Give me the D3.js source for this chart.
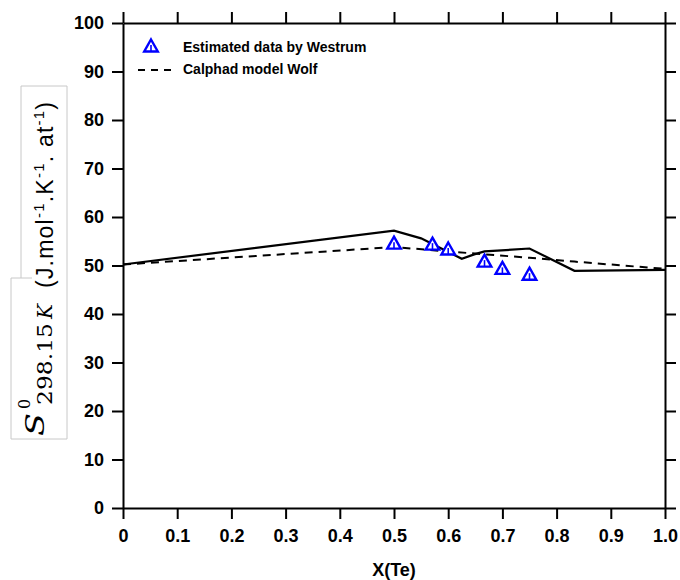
<!DOCTYPE html>
<html>
<head>
<meta charset="utf-8">
<script src="https://cdn.jsdelivr.net/npm/d3@7"></script>
<style>
  body { margin: 0; background: #fff; }
  svg { font-family: "Liberation Sans", Arial, sans-serif; }
</style>
</head>
<body>
<svg width="680" height="580"></svg>
<script>
// data
var westrumX = [0.5, 0.571, 0.6, 0.667, 0.7, 0.75]
var westrumS = [54.4, 54.2, 53.2, 50.7, 49.2, 48.0]
var solidX = [0, 0.5, 0.55, 0.625, 0.648, 0.667, 0.75, 0.833, 1.0]
var solidS = [50.2, 57.2, 55.6, 51.4, 52.3, 52.9, 53.5, 48.9, 49.1]
var wolfX = [0, 0.5, 0.6, 0.667, 0.75, 0.833, 1.0]
var wolfS = [50.2, 53.8, 52.9, 52.3, 51.6, 50.8, 49.3]
var xTicks = [0, 0.1, 0.2, 0.3, 0.4, 0.5, 0.6, 0.7, 0.8, 0.9, 1.0]
var xTickLabels = ["0", "0.1", "0.2", "0.3", "0.4", "0.5", "0.6", "0.7", "0.8", "0.9", "1.0"]
var yTicks = [0, 10, 20, 30, 40, 50, 60, 70, 80, 90, 100]
var legendLabels = ["Estimated data by Westrum", "Calphad model Wolf"]

function renderChart() {
  var svg = d3.select("svg")
  var pLeft = 123, pRight = 665, pTop = 23, pBottom = 508

  var x = d3.scaleLinear().domain([0, 1]).range([pLeft, pRight])
  var y = d3.scaleLinear().domain([0, 100]).range([pBottom, pTop])

  function styleAxis(g) {
    g.selectAll(".domain").attr("stroke", "#000").attr("stroke-width", 2)
    g.selectAll(".tick line").attr("stroke", "#000").attr("stroke-width", 2)
    g.selectAll(".tick text").attr("fill", "#000")
      .style("font-weight", "bold").style("font-size", "18px")
      .style("font-family", "'Liberation Sans', Arial, sans-serif")
  }

  svg.append("g").attr("transform", `translate(0,${pBottom})`)
    .call(d3.axisBottom(x).tickValues(xTicks).tickSize(11).tickSizeOuter(0).tickPadding(10)
      .tickFormat((d, i) => xTickLabels[i]))
    .call(styleAxis)

  svg.append("g").attr("transform", `translate(0,${pTop})`)
    .call(d3.axisTop(x).tickValues(xTicks).tickSize(11).tickSizeOuter(0).tickFormat(""))
    .call(styleAxis)

  svg.append("g").attr("transform", `translate(${pLeft},0)`)
    .call(d3.axisLeft(y).tickValues(yTicks).tickSize(11).tickSizeOuter(0).tickPadding(8))
    .call(styleAxis)

  svg.append("g").attr("transform", `translate(${pRight},0)`)
    .call(d3.axisRight(y).tickValues(yTicks).tickSize(11).tickSizeOuter(0).tickFormat(""))
    .call(styleAxis)

  // lines
  var lineGen = d3.line().x(d => x(d[0])).y(d => y(d[1]))

  svg.append("path")
    .attr("d", lineGen(d3.zip(solidX, solidS)))
    .attr("fill", "none").attr("stroke", "#000").attr("stroke-width", 2.2)

  svg.append("path")
    .attr("d", lineGen(d3.zip(wolfX, wolfS)))
    .attr("fill", "none").attr("stroke", "#000").attr("stroke-width", 2)
    .attr("stroke-dasharray", "8,6")

  // triangle markers
  function triangle(g) {
    g.append("path").attr("d", "M0,-7.5L6.8,4.5L-6.8,4.5Z")
      .attr("fill", "#fff").attr("stroke", "#0000ff").attr("stroke-width", 2.4)
    g.append("line").attr("x1", 0).attr("x2", 0).attr("y1", -2).attr("y2", 4.5)
      .attr("stroke", "#0000ff").attr("stroke-width", 1.6)
  }

  svg.selectAll(".westrum")
    .data(d3.zip(westrumX, westrumS))
    .enter().append("g").attr("class", "westrum")
    .attr("transform", d => `translate(${x(d[0])},${y(d[1])})`)
    .each(function () { triangle(d3.select(this)) })

  // legend
  var legend = svg.append("g")
  legend.append("g").attr("transform", "translate(151,47)").call(triangle)
  legend.append("line").attr("x1", 138).attr("x2", 174).attr("y1", 70).attr("y2", 70)
    .attr("stroke", "#000").attr("stroke-width", 2).attr("stroke-dasharray", "7,6")
  legend.selectAll(".lt").data(legendLabels).enter().append("text")
    .attr("x", 183).attr("y", (d, i) => 52 + i * 22)
    .attr("font-size", "14px").attr("font-weight", "bold").text(d => d)

  // x label
  svg.append("text").attr("x", (pLeft + pRight) / 2).attr("y", 576)
    .attr("text-anchor", "middle").attr("font-size", "18px").attr("font-weight", "bold")
    .text("X(Te)")

  // y label box
  svg.append("path")
    .attr("d", "M21,86L67,86L67,439L11,439L11,278L32,278M21,86L21,278")
    .attr("fill", "none").attr("stroke", "#c8c8c8").attr("stroke-width", 1)

  var yl = svg.append("g").attr("transform", "translate(0,440) rotate(-90)")
  yl.append("text").attr("x", 4).attr("y", 44)
    .attr("font-family", "'DejaVu Serif', serif").attr("font-style", "italic")
    .attr("font-size", "26px").attr("textLength", 23).attr("lengthAdjust", "spacingAndGlyphs")
    .text("S")
  yl.append("text").attr("x", 31).attr("y", 30)
    .attr("font-family", "'DejaVu Serif', serif").attr("font-size", "16px").text("0")
  yl.append("text").attr("x", 35).attr("y", 52)
    .attr("font-family", "'DejaVu Serif', serif").attr("font-size", "20px")
    .attr("textLength", 82).attr("lengthAdjust", "spacingAndGlyphs").text("298.15")
  yl.append("text").attr("x", 121).attr("y", 52)
    .attr("font-family", "'DejaVu Serif', serif").attr("font-style", "italic")
    .attr("font-size", "20px").text("K")

  var unit = yl.append("text").attr("x", 152).attr("y", 53)
    .attr("font-size", "23px").attr("textLength", 186).attr("lengthAdjust", "spacing")
  var parts = [["(J.mol", 0], ["-1", -1], [".K", 1], ["-1", -1], [". at", 1], ["-1", -1], [")", 1]]
  parts.forEach(p => {
    unit.append("tspan")
      .attr("dy", p[1] === -1 ? -9 : (p[1] === 1 ? 9 : 0))
      .attr("font-size", p[1] === -1 ? "15px" : "23px")
      .text(p[0])
  })
}

renderChart()
</script>
</body>
</html>
